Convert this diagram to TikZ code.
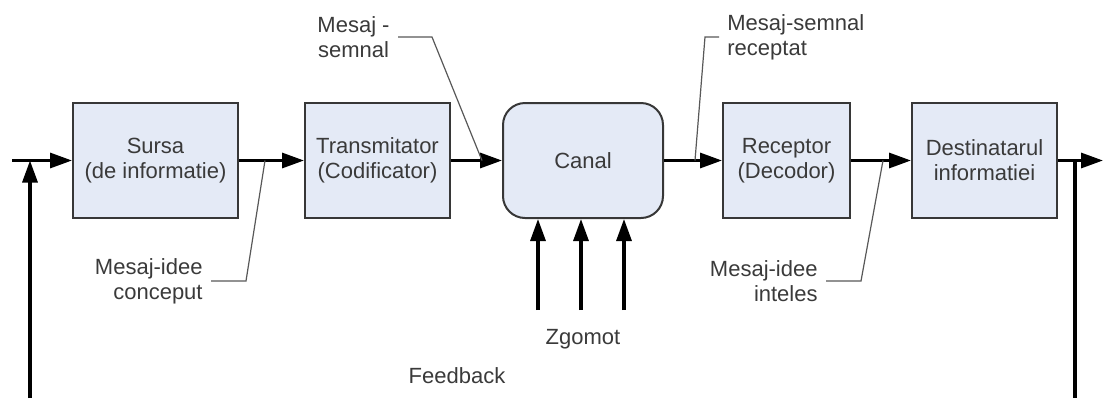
\documentclass[tikz,border=0pt]{standalone}
\usepackage{fontspec}
\setmainfont{Liberation Sans}
\usetikzlibrary{arrows.meta}
\definecolor{boxfill}{RGB}{228,234,246}
\definecolor{ink}{RGB}{58,58,58}
\definecolor{edge}{RGB}{55,55,55}
\begin{document}
\begin{tikzpicture}[x=0.5pt,y=-0.5pt,
  font=\fontsize{11}{12.5}\selectfont,
  block/.style={draw=edge,line width=1pt,fill=boxfill,minimum height=57.5pt,
    align=center,text=ink,inner sep=2pt},
  flow/.style={line width=1.6pt,-{Triangle[length=11pt,width=7.5pt]}},
  plain/.style={line width=1.6pt},
  leader/.style={draw=ink!85,line width=0.6pt},
  note/.style={text=ink,inner sep=0pt}]
\useasboundingbox (0,0) rectangle (1105,398);

% processing chain
\node[block,minimum width=82.5pt] (src) at (155.5,160.5) {Sursa\\(de informatie)};
\node[block,minimum width=72.5pt] (tx)  at (377.5,160.5) {Transmitator\\(Codificator)};
\node[block,minimum width=80pt,rounded corners=11pt] (ch) at (583,160.5) {Canal};
\node[block,minimum width=63.5pt] (rx)  at (786.5,160.5) {Receptor\\(Decodor)};
\node[block,minimum width=72.5pt] (dst) at (984.5,160.5) {Destinatarul\\informatiei};

% input, output and feedback path
\coordinate (in)   at (12,160.5);
\coordinate (out)  at (1103,160.5);
\coordinate (fbL)  at (30,398);
\coordinate (fbLt) at (30,160.5);
\coordinate (fbR)  at (1075,160.5);
\coordinate (fbRb) at (1075,398);

\draw[flow] (in) -- (src);
\draw[flow] (src) -- (tx);
\draw[flow] (tx) -- (ch);
\draw[flow] (ch) -- (rx);
\draw[flow] (rx) -- (dst);
\draw[flow] (dst) -- (out);
\draw[flow] (fbL) -- (fbLt);
\draw[plain] (fbR) -- (fbRb);

% noise entering the channel
\coordinate (n1) at (538,310);
\coordinate (n2) at (581,310);
\coordinate (n3) at (624,310);
\foreach \n in {n1,n2,n3}
  \draw[flow] (\n) -- (\n |- ch.south);

\node[note,anchor=base] (noise) at (583,344) {Zgomot};
\node[note,anchor=base] (fb) at (457,383) {Feedback};

% message labels with leader lines
\node[note,anchor=east,align=center] (ms) at (390,37) {Mesaj -\\semnal};
\node[note,anchor=west,align=left]   (mr) at (727,37) {Mesaj-semnal\\receptat};
\node[note,anchor=east,align=right]  (mc) at (203,281) {Mesaj-idee\\conceput};
\node[note,anchor=east,align=right]  (mi) at (818,281) {Mesaj-idee\\inteles};

\coordinate (ms-end) at (482,160.5);
\coordinate (mr-end) at (695,160.5);
\coordinate (mc-end) at (265,160.5);
\coordinate (mi-end) at (883,160.5);

\draw[leader] ([xshift=4pt]ms.east) -- ++(34,0) -- (ms-end);
\draw[leader] ([xshift=-4pt]mr.west) -- ++(-14,0) -- (mr-end);
\draw[leader] ([xshift=4pt]mc.east) -- ++(35,0) -- (mc-end);
\draw[leader] ([xshift=4pt]mi.east) -- ++(35,0) -- (mi-end);
\end{tikzpicture}
\end{document}
